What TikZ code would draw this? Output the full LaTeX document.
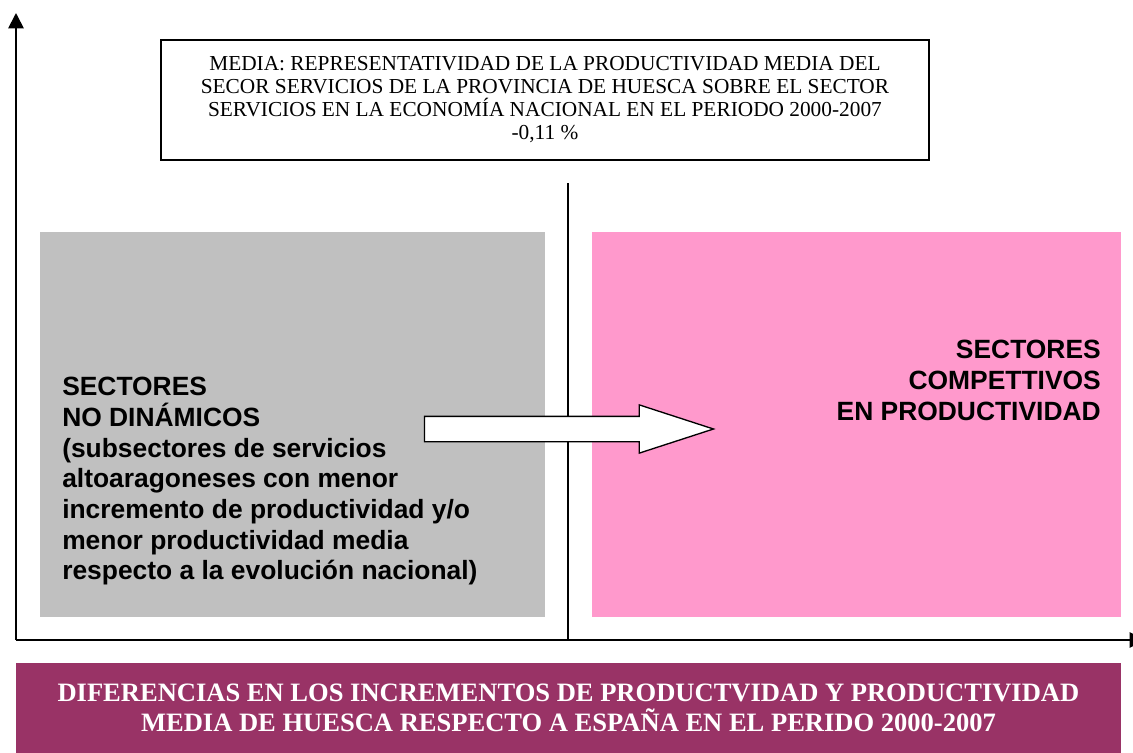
\documentclass[tikz,border=0pt]{standalone}
\usepackage{fontspec}
\setmainfont{Liberation Serif}
\setsansfont{Liberation Sans}
\usetikzlibrary{arrows.meta, positioning, shapes.arrows}
\definecolor{grisnodin}{HTML}{C0C0C0}
\definecolor{rosacomp}{HTML}{FF99CC}
\definecolor{granate}{HTML}{993366}
\tikzset{
        x=0.75pt, y=-0.75pt, % one unit is one pixel of the reference
        axis/.style={line width=1.3pt, -{Triangle[width=11.5pt,length=11.5pt]}}, % the two axes
        quadrant/.style={draw=none, minimum height=288.75pt, inner sep=0pt}, % coloured fields
    }
\tikzstyle{mediabox}=[draw, line width=1pt, minimum width=576pt, minimum height=90pt, align=center, font=\fontsize{16}{17.25}\selectfont]
\tikzstyle{fieldtext}=[inner sep=0pt, font=\sffamily\bfseries\fontsize{19.8}{23}\selectfont]
\tikzstyle{banner}=[fill=granate, text=white, minimum width=828.75pt, minimum height=67.5pt, align=center, font=\bfseries\fontsize{19.9}{22.5}\selectfont]
\tikzstyle{bigarrow}=[single arrow, draw, line width=1pt, fill=white, inner xsep=0pt, inner ysep=9pt, single arrow head extend=8.6pt, single arrow tip angle=36, minimum height=216.75pt]

\begin{document}
\begin{tikzpicture}
    \useasboundingbox (0,0) rectangle (1133,753);
    % fields
    \node[quadrant, fill=grisnodin, minimum width=378.75pt] (nodin) at (292.5,424.5) {};
    \node[quadrant, fill=rosacomp, minimum width=396.75pt] (comp) at (856.5,424.5) {};
    % axes and divider
    \coordinate (origin) at (16,640);
    \coordinate (ytop) at (16,13);
    \coordinate (xtip) at (1145,640);
    \coordinate (divtop) at (568,183);
    \coordinate (divbot) at (568,640);
    \draw[line width=0.8pt] (divtop) -- (divbot);
    \draw[axis] (origin) -- (ytop);
    \draw[axis] (origin) -- (xtip);
    % texts
    \node[mediabox] (media) at (545,100)
        {MEDIA: REPRESENTATIVIDAD DE LA PRODUCTIVIDAD MEDIA DEL\\
         SECOR SERVICIOS DE LA PROVINCIA DE HUESCA SOBRE EL SECTOR\\
         SERVICIOS EN LA ECONOMÍA NACIONAL EN EL PERIODO 2000-2007\\
         -0,11 \%};
    \node[fieldtext, align=left, anchor=north west] (nodintext) at (62,377)
        {SECTORES\\ NO DINÁMICOS\\ (subsectores de servicios\\ altoaragoneses con menor\\
         incremento de productividad y/o\\ menor productividad media\\ respecto a la evolución nacional)};
    \node[fieldtext, align=right, anchor=north east] (comptext) at (1101,340)
        {SECTORES\\ COMPETTIVOS\\ EN PRODUCTIVIDAD};
    \node[bigarrow] (paso) at (549.5,429) {};
    \node[banner] (titulo) at (568.5,708)
        {DIFERENCIAS EN LOS INCREMENTOS DE PRODUCTVIDAD Y PRODUCTIVIDAD\\
         MEDIA DE HUESCA RESPECTO A ESPAÑA EN EL PERIDO 2000-2007};
\end{tikzpicture}
\end{document}
